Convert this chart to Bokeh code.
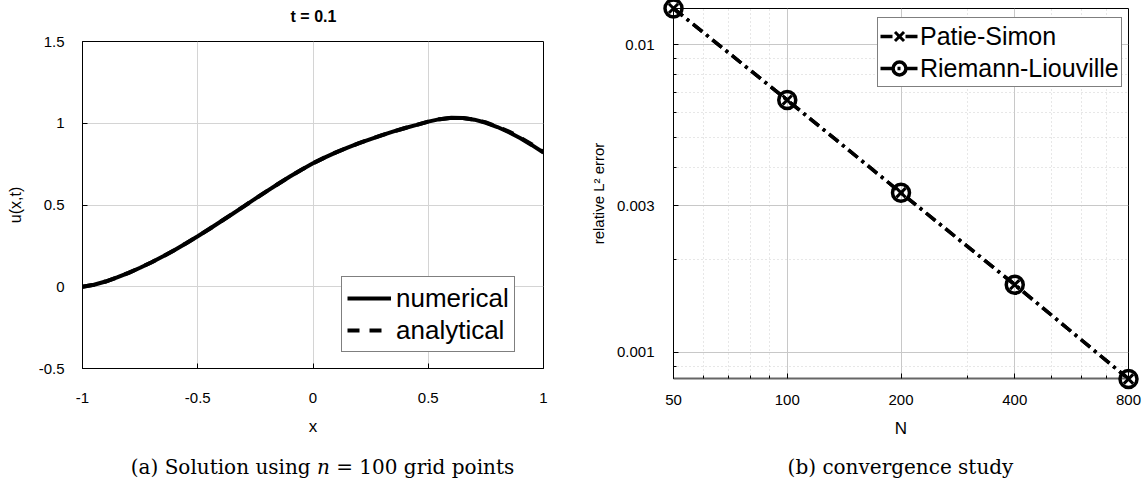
from bokeh.plotting import figure
from bokeh.layouts import row, column
from bokeh.models import (FixedTicker, Legend, LegendItem, Range1d, Div)
from bokeh.embed import file_html
from bokeh.resources import INLINE

# ---------------- data ----------------
x_grid = [-1.0, -0.95, -0.9, -0.85, -0.8, -0.75, -0.7, -0.65, -0.6, -0.55, -0.5,
          -0.45, -0.4, -0.35, -0.3, -0.25, -0.2, -0.15, -0.1, -0.05, 0.0,
          0.05, 0.1, 0.15, 0.2, 0.25, 0.3, 0.35, 0.4, 0.45, 0.5,
          0.55, 0.6, 0.65, 0.7, 0.75, 0.8, 0.85, 0.9, 0.95, 1.0]
u_numerical = [0.0, 0.012, 0.032, 0.057, 0.085, 0.116, 0.150, 0.186, 0.225, 0.266, 0.309,
               0.353, 0.399, 0.445, 0.492, 0.539, 0.585, 0.630, 0.674, 0.716, 0.755,
               0.790, 0.822, 0.851, 0.878, 0.903, 0.927, 0.950, 0.971, 0.990, 1.010,
               1.025, 1.033, 1.032, 1.022, 1.003, 0.977, 0.945, 0.908, 0.866, 0.820]
u_analytical = [0.0, 0.012, 0.032, 0.057, 0.085, 0.116, 0.150, 0.186, 0.225, 0.266, 0.309,
                0.353, 0.399, 0.445, 0.492, 0.539, 0.585, 0.630, 0.674, 0.716, 0.755,
                0.790, 0.822, 0.851, 0.878, 0.903, 0.927, 0.950, 0.971, 0.990, 1.010,
                1.025, 1.033, 1.032, 1.023, 1.005, 0.980, 0.949, 0.912, 0.870, 0.824]
left_xticks = [-1, -0.5, 0, 0.5, 1]
left_yticks = [-0.5, 0, 0.5, 1, 1.5]

N_values = [50, 100, 200, 400, 800]
err_patie_simon = [0.0131, 0.0066, 0.0033, 0.00166, 0.00082]
err_riemann_liouville = [0.0131, 0.0066, 0.0033, 0.00166, 0.00082]
right_xticks = [50, 100, 200, 400, 800]
right_xminor = [60, 70, 80, 90, 300, 500, 600, 700]
right_yticks = [0.001, 0.003, 0.01]
right_yminor = [0.0009, 0.002, 0.004, 0.005, 0.006, 0.007, 0.008, 0.009]

SANS = "Liberation Sans"
SERIF = "DejaVu Serif"

# ---------------- left figure ----------------
title_div = Div(text=('<div style="font-family: \'Liberation Sans\'; font-size: 16px; '
                      'font-weight: bold; line-height: 34px; text-align: center; '
                      'margin-left: 54px; width: 519px; color: black;">t = 0.1</div>'),
                width=573, height=34, margin=0)

p1 = figure(width=573, height=418, output_backend="svg", toolbar_location=None,
            title=None, x_range=Range1d(-1, 1), y_range=Range1d(-0.5, 1.5),
            min_border_left=82, min_border_right=30, min_border_top=7, min_border_bottom=84)
p1.outline_line_color = "black"
p1.outline_line_width = 1
p1.outline_line_alpha = 1

p1.xaxis.ticker = FixedTicker(ticks=left_xticks)
p1.yaxis.ticker = FixedTicker(ticks=left_yticks)
p1.xaxis.major_label_overrides = {-1: "-1", -0.5: "-0.5", 0: "0", 0.5: "0.5", 1: "1"}
p1.yaxis.major_label_overrides = {-0.5: "-0.5", 0: "0", 0.5: "0.5", 1: "1", 1.5: "1.5"}
p1.xaxis.axis_label = "x"
p1.yaxis.axis_label = "u(x,t)"

for ax in (p1.xaxis, p1.yaxis):
    ax.major_label_text_font = SANS
    ax.major_label_text_font_size = "15px"
    ax.major_label_text_color = "black"
    ax.axis_label_text_font = SANS
    ax.axis_label_text_font_style = "normal"
    ax.axis_label_text_color = "black"
    ax.major_tick_in = 5
    ax.major_tick_out = 0
    ax.minor_tick_line_color = None
    ax.axis_line_color = "black"
    ax.major_tick_line_color = "black"
p1.xaxis.axis_label_text_font_size = "17px"
p1.yaxis.axis_label_text_font_size = "16px"
p1.xaxis.major_label_standoff = 24
p1.yaxis.major_label_standoff = 18
p1.xaxis.axis_label_standoff = 11
p1.yaxis.axis_label_standoff = 12

p1.grid.grid_line_color = "#d4d4d4"
p1.grid.grid_line_width = 1

r_num = p1.line(x_grid, u_numerical, line_color="black", line_width=4)
r_ana = p1.line(x_grid, u_analytical, line_color="black", line_width=4, line_dash="12 10")

leg1 = Legend(items=[LegendItem(label="numerical", renderers=[r_num]),
                     LegendItem(label="analytical", renderers=[r_ana])],
              location=(259, 16))
leg1.label_text_font = SANS
leg1.label_text_font_size = "26px"
leg1.label_text_color = "black"
leg1.glyph_width = 44
leg1.glyph_height = 32
leg1.label_height = 32
leg1.label_standoff = 5
leg1.spacing = 0
leg1.padding = 5
leg1.margin = 0
leg1.border_line_color = "black"
leg1.border_line_width = 1
leg1.background_fill_alpha = 1
p1.add_layout(leg1, "center")

cap1 = Div(text=('<div style="font-family: \'DejaVu Serif\'; font-size: 20px; '
                 'line-height: 30px; text-align: center; margin-left: 72px; width: 501px; '
                 'color: black;">(a) Solution using <i>n</i> = 100 grid points</div>'),
           width=573, height=30, margin=0)

# ---------------- right figure ----------------
p2 = figure(width=573, height=452, output_backend="svg", toolbar_location=None,
            title=None, x_axis_type="log", y_axis_type="log",
            x_range=Range1d(50, 800), y_range=Range1d(0.000823, 0.01309),
            min_border_left=100, min_border_right=18, min_border_top=8, min_border_bottom=74)
p2.outline_line_color = "black"
p2.outline_line_width = 1
p2.outline_line_alpha = 1

p2.xaxis.ticker = FixedTicker(ticks=right_xticks, minor_ticks=right_xminor)
p2.yaxis.ticker = FixedTicker(ticks=right_yticks, minor_ticks=right_yminor)
p2.xaxis.major_label_overrides = {50: "50", 100: "100", 200: "200", 400: "400", 800: "800"}
p2.yaxis.major_label_overrides = {0.001: "0.001", 0.003: "0.003", 0.01: "0.01"}
p2.xaxis.axis_label = "N"
p2.yaxis.axis_label = "relative L² error"

for ax in (p2.xaxis, p2.yaxis):
    ax.major_label_text_font = SANS
    ax.major_label_text_font_size = "15px"
    ax.major_label_text_color = "black"
    ax.axis_label_text_font = SANS
    ax.axis_label_text_font_style = "normal"
    ax.axis_label_text_color = "black"
    ax.major_tick_in = 5
    ax.major_tick_out = 0
    ax.minor_tick_in = 3
    ax.minor_tick_out = 0
    ax.axis_line_color = "black"
    ax.major_tick_line_color = "black"
    ax.minor_tick_line_color = "black"
p2.xaxis.axis_line_color = "#666666"
p2.xaxis.axis_line_width = 2
p2.xaxis.axis_label_text_font_size = "17px"
p2.yaxis.axis_label_text_font_size = "15px"
p2.xaxis.major_label_standoff = 16
p2.yaxis.major_label_standoff = 19
p2.xaxis.axis_label_standoff = 11
p2.yaxis.axis_label_standoff = 7

p2.grid.grid_line_color = "#c8c8c8"
p2.grid.grid_line_width = 1
p2.grid.minor_grid_line_color = "#cfcfcf"
p2.grid.minor_grid_line_dash = "1 3"
p2.grid.minor_grid_line_width = 1

dashdot = "12 5 3 5"
l_ps = p2.line(N_values, err_patie_simon, line_color="black", line_width=3.5, line_dash=dashdot)
l_rl = p2.line(N_values, err_riemann_liouville, line_color="black", line_width=3.5, line_dash=dashdot)
m_rl = p2.scatter(N_values, err_riemann_liouville, marker="circle", size=17,
                  fill_color=None, line_color="black", line_width=3.5, level="overlay")
m_ps = p2.scatter(N_values, err_patie_simon, marker="x", size=13,
                  line_color="black", line_width=3, level="overlay")

leg2 = Legend(items=[LegendItem(label="Patie-Simon", renderers=[l_ps, m_ps]),
                     LegendItem(label="Riemann-Liouville", renderers=[l_rl, m_rl])],
              location=(204, 291))
leg2.label_text_font = SANS
leg2.label_text_font_size = "25px"
leg2.label_text_color = "black"
leg2.glyph_width = 38
leg2.glyph_height = 32
leg2.label_height = 32
leg2.label_standoff = 2
leg2.spacing = 0
leg2.padding = 2
leg2.margin = 0
leg2.border_line_color = "black"
leg2.border_line_width = 1
leg2.background_fill_alpha = 1
p2.add_layout(leg2, "center")

cap2 = Div(text=('<div style="font-family: \'DejaVu Serif\'; font-size: 20px; '
                 'line-height: 30px; text-align: center; margin-left: 82px; width: 491px; '
                 'color: black;">(b) convergence study</div>'),
           width=573, height=30, margin=0)

layout = row(column(title_div, p1, cap1), column(p2, cap2))
open("out.html", "w").write(file_html(layout, INLINE))
